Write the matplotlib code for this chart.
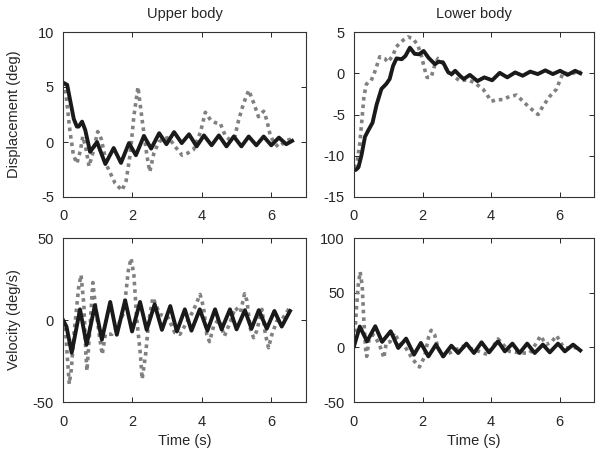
import matplotlib
matplotlib.use("Agg")
import matplotlib.pyplot as plt

plt.rcParams['font.family'] = ['Liberation Sans', 'DejaVu Sans']
plt.rcParams['axes.unicode_minus'] = False

# upper body displacement (deg)
ub_disp_t_solid = [0, 0.12, 0.31, 0.4, 0.45, 0.55, 0.64, 0.78, 0.98, 1.22, 1.46, 1.67, 1.9, 2.1,
                   2.33, 2.54, 2.77, 2.98, 3.2, 3.42, 3.63, 3.85, 4.06, 4.28, 4.49, 4.71, 4.92,
                   5.14, 5.35, 5.57, 5.78, 6.0, 6.22, 6.43, 6.6]
ub_disp_solid = [5.4, 5.2, 2.1, 1.4, 1.4, 1.85, 1.1, -0.9, 0.0, -2.0, -0.55, -1.9, -0.1, -1.2,
                 0.55, -0.6, 0.8, -0.2, 0.9, -0.1, 0.7, -0.4, 0.6, -0.3, 0.6, -0.4, 0.5,
                 -0.4, 0.5, -0.3, 0.5, -0.3, 0.4, -0.2, 0.1]
ub_disp_t_dot = [0, 0.08, 0.2, 0.3, 0.4, 0.5, 0.57, 0.66, 0.75, 0.86, 1.0, 1.1, 1.27, 1.5, 1.7,
                 1.82, 1.94, 2.04, 2.16, 2.28, 2.42, 2.5, 2.62, 2.76, 2.9, 3.05, 3.2, 3.43, 3.6,
                 3.76, 3.96, 4.1, 4.25, 4.39, 4.53, 4.67, 4.8, 4.95, 5.06, 5.2, 5.35, 5.5, 5.63,
                 5.78, 5.87, 5.97, 6.07, 6.2, 6.35, 6.5, 6.62]
ub_disp_dot = [5.4, 4.5, 1.0, -1.2, -1.95, -0.8, 0.5, -0.6, -2.2, -1.0, 0.95, 0.3, -2.2, -3.75,
               -4.4, -3.5, -1.0, 2.3, 5.0, 2.0, -1.3, -2.7, -1.0, 0.0, 0.3, 0.4, -0.3, -1.2, -1.0,
               -0.7, 0.9, 2.7, 2.0, 1.75, 1.7, 0.6, 0.2, 0.5, 2.0, 3.5, 4.7, 3.5, 2.3,
               2.8, 2.0, 0.6, 0.0, -0.45, -0.1, 0.2, 0.3]

# lower body displacement (deg)
lb_disp_t_solid = [0, 0.06, 0.13, 0.22, 0.32, 0.42, 0.54, 0.66, 0.8, 0.94, 1.04, 1.14, 1.24, 1.39,
                   1.5, 1.63, 1.77, 1.9, 2.03, 2.18, 2.36, 2.47, 2.6, 2.75, 2.85, 2.95, 3.09, 3.2,
                   3.38, 3.6, 3.8, 4.03, 4.25, 4.47, 4.7, 4.92, 5.14, 5.36, 5.58, 5.8, 6.01,
                   6.23, 6.45, 6.6]
lb_disp_solid = [-11.75, -11.7, -11.4, -9.9, -7.7, -6.9, -6.0, -3.8, -1.9, -1.3, -0.7, 0.9, 1.8,
                 1.7, 2.1, 3.1, 2.35, 2.3, 2.7, 1.85, 1.1, 1.4, 1.3, 0.1, -0.1, 0.3, -0.3, -0.7,
                 -0.2, -0.95, -0.5, -0.85, 0.05, -0.5, 0.1, -0.3, 0.2, -0.1, 0.35, -0.1, 0.3,
                 -0.2, 0.3, 0.0]
lb_disp_t_dot = [0.03, 0.1, 0.17, 0.24, 0.29, 0.36, 0.41, 0.5, 0.6, 0.7, 0.75, 0.89, 0.99, 1.14,
                 1.23, 1.43, 1.57, 1.72, 1.86, 1.96, 2.06, 2.13, 2.25, 2.35, 2.45, 2.54, 2.69,
                 2.88, 3.08, 3.3, 3.5, 3.77, 4.01, 4.16, 4.35, 4.54, 4.74, 4.88, 5.13, 5.37,
                 5.51, 5.71, 5.9, 6.02, 6.1, 6.3, 6.53, 6.63]
lb_disp_dot = [-11.5, -10.5, -8.5, -5.2, -2.8, -1.35, -1.1, -0.9, 0.1, 1.35, 2.0, 1.8, 1.35, 2.2,
               3.2, 4.0, 4.4, 4.2, 3.4, 2.2, 0.5, -0.5, -0.5, 0.9, 1.8, 1.6, 0.5,
               -0.3, -0.9, -0.8, -1.1, -1.96, -3.4, -3.2, -3.2, -2.8, -2.65, -3.2, -4.2, -5.0,
               -4.0, -2.8, -1.96, -0.73, 0.08, -0.12, 0.2, 0.08]

# upper body velocity (deg/s)
ub_vel_t_solid = [0, 0.1, 0.25, 0.49, 0.68, 0.92, 1.12, 1.36, 1.55, 1.79, 1.99, 2.22, 2.41, 2.64,
                  2.85, 3.09, 3.28, 3.51, 3.7, 3.94, 4.16, 4.38, 4.57, 4.81, 5.0, 5.24, 5.43,
                  5.64, 5.87, 6.09, 6.3, 6.54]
ub_vel_solid = [0, -4, -20, 6.5, -15, 9, -12, 11, -9, 12, -7, 11, -6, 9.6,
                -6, 8.5, -7, 6.5, -6.5, 6.5, -6.5, 6.5, -5.7, 6.5, -5.7, 6, -5.3,
                6, -5.3, 5.5, -4, 5.5]
ub_vel_t_dot = [0, 0.08, 0.12, 0.18, 0.24, 0.31, 0.45, 0.52, 0.6, 0.66, 0.69, 0.79, 0.86, 0.93,
                1.05, 1.13, 1.22, 1.41, 1.56, 1.75, 1.88, 1.96, 2.04, 2.13, 2.23, 2.28, 2.38,
                2.47, 2.59, 2.79, 3.03, 3.22, 3.37, 3.56, 3.75, 3.95, 4.05, 4.14, 4.22, 4.34,
                4.48, 4.65, 4.83, 4.96, 5.11, 5.23, 5.3, 5.39, 5.49, 5.58, 5.73, 5.83, 5.92,
                6.02, 6.16, 6.31, 6.5, 6.57]
ub_vel_dot = [0, -8, -21, -39, -30, -10, 19.7, 27.4, 9.6, -21, -31, -0.6, 22.8, 9.6,
              -10, -21, -8.7, -8.7, -4.7, 4.5, 29.9, 37.6, 27.8, -0.6, -21, -36, -21,
              -0.6, 13.6, 3.5, 1.4, -7.7, -8.7, -1.6, 5.5, 15.6, 7.5, -8.7, -13.2, -3.7,
              0.4, -9.8, -0.6, 7.5, 4.5, 16, 11.6, -4.7, -10.8, -6.7, 6.5, -8.7, -16.9,
              -8.7, -0.6, 0.4, 6.5, 7.5]

# lower body velocity (deg/s)
lb_vel_t_solid = [0, 0.17, 0.38, 0.62, 0.82, 1.07, 1.29, 1.52, 1.75, 1.95, 2.17, 2.39, 2.6, 2.84,
                  3.04, 3.28, 3.5, 3.72, 3.94, 4.2, 4.4, 4.62, 4.83, 5.05, 5.27, 5.51, 5.71,
                  5.95, 6.15, 6.39, 6.6]
lb_vel_solid = [1, 19, 5.5, 19.3, 5, 14.7, -0.6, 8, -6.7, 4, -8.3, 2.5, -8.3, 1.5,
                -5.2, 3.4, -5.2, 4.6, -4.6, 5.5, -3.7, 3.4, -5.2, 3.4, -5.2, 2.5, -4.6,
                3.4, -3.7, 2.5, -2.8]
lb_vel_t_dot = [0, 0.07, 0.12, 0.18, 0.24, 0.28, 0.34, 0.37, 0.44, 0.55, 0.68, 0.8, 0.87, 0.94,
                1.05, 1.18, 1.33, 1.5, 1.72, 1.91, 2.06, 2.18, 2.25, 2.35, 2.45, 2.59, 2.88,
                3.17, 3.5, 3.9, 4.2, 4.53, 4.88, 5.13, 5.3, 5.44, 5.6, 5.75, 5.91, 6.06, 6.18,
                6.4, 6.55]
lb_vel_dot = [0, 34.7, 56, 69, 56, 28.5, -2.1, -8.3, 7, 11.7, 6, -2.1, -9.8, 4,
              5, 13.2, 4, 0, -11.3, -18, -8.3, 10, 15.6, 11.7, -0.6, -8.3, -3.7,
              0.9, -2, -6.7, 7.7, -3.7, -5.2, -5.2, 3, 10.5, 2.5, 4.6, 10.7, 2.5, -0.6,
              0, -1]

titles = ['Upper body', 'Lower body']
ylabels = ['Displacement (deg)', 'Velocity (deg/s)']
xticks = [0, 2, 4, 6]

panels = [
    (ub_disp_t_solid, ub_disp_solid, ub_disp_t_dot, ub_disp_dot, (-5, 10), [-5, 0, 5, 10]),
    (lb_disp_t_solid, lb_disp_solid, lb_disp_t_dot, lb_disp_dot, (-15, 5), [-15, -10, -5, 0, 5]),
    (ub_vel_t_solid, ub_vel_solid, ub_vel_t_dot, ub_vel_dot, (-50, 50), [-50, 0, 50]),
    (lb_vel_t_solid, lb_vel_solid, lb_vel_t_dot, lb_vel_dot, (-50, 100), [-50, 0, 50, 100]),
]

W, H = 604, 458
fig = plt.figure(figsize=(W / 100, H / 100), dpi=100)

# axes boxes in pixels: left, right, top, bottom
cols = [(63, 306), (354, 594)]
rows = [(32, 197), (238, 402)]

for i, (ts, ys, td, yd, ylim, yticks) in enumerate(panels):
    r, c = divmod(i, 2)
    x0, x1 = cols[c]
    y0, y1 = rows[r]
    ax = fig.add_axes([x0 / W, 1 - y1 / H, (x1 - x0) / W, (y1 - y0) / H])
    ax.plot(td, yd, color='#808080', lw=2.6, ls=(0, (1, 1.1)), solid_capstyle='butt')
    ax.plot(ts, ys, color='#1a1a1a', lw=2.8, solid_joinstyle='round')
    ax.set_xlim(0, 7)
    ax.set_ylim(*ylim)
    ax.set_xticks(xticks)
    ax.set_yticks(yticks)
    ax.tick_params(direction='in', top=True, right=True, length=3.5, width=0.7,
                   labelsize=10.5, colors='#262626')
    ax.tick_params(axis='x', pad=9)
    ax.tick_params(axis='y', pad=6.5)
    for sp in ax.spines.values():
        sp.set_linewidth(0.8)
        sp.set_color('#333333')
    if r == 0:
        ax.set_title(titles[c], fontsize=10.5, color='#262626', pad=10)
    if c == 0:
        ax.set_ylabel(ylabels[r], fontsize=10.5, color='#262626')
        ax.yaxis.set_label_coords(-42 / (x1 - x0), 0.5)
    if r == 1:
        ax.set_xlabel('Time (s)', fontsize=10.5, color='#262626', labelpad=4)

fig.savefig('out.png', dpi=100)
